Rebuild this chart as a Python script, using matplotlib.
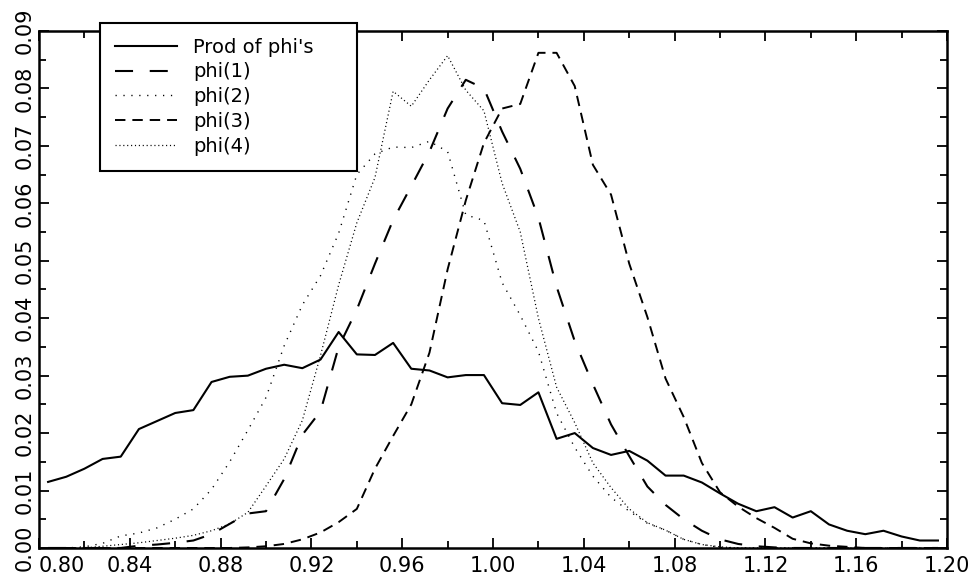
import matplotlib
matplotlib.use("Agg")
import matplotlib.pyplot as plt
import numpy as np
from matplotlib.ticker import MultipleLocator

# histogram bins: 50 bins of width 0.008 between 0.80 and 1.20
bin_edges = np.linspace(0.80, 1.20, 51)
bin_centres = (bin_edges[:-1] + bin_edges[1:]) / 2

prod_phis = [0.0115, 0.0124, 0.0138, 0.0155, 0.0159, 0.0207, 0.0221, 0.0235, 0.0240, 0.0289,
             0.0298, 0.0300, 0.0312, 0.0319, 0.0313, 0.0328, 0.0376, 0.0337, 0.0336, 0.0357,
             0.0312, 0.0309, 0.0297, 0.0301, 0.0301, 0.0252, 0.0249, 0.0271, 0.0190, 0.0200,
             0.0174, 0.0162, 0.0169, 0.0152, 0.0126, 0.0126, 0.0114, 0.0095, 0.0077, 0.0064,
             0.0071, 0.0053, 0.0064, 0.0041, 0.0030, 0.0024, 0.0030, 0.0020, 0.0013, 0.0013]

phi1 = [0.0, 0.0, 0.0, 0.0, 0.0, 0.0004, 0.0006, 0.0009, 0.0013, 0.0024,
        0.0042, 0.0060, 0.0064, 0.0120, 0.0197, 0.0238, 0.0350, 0.0415, 0.0495, 0.0571,
        0.0630, 0.0690, 0.0765, 0.0815, 0.0800, 0.0725, 0.0660, 0.0575, 0.0455, 0.0360,
        0.0285, 0.0215, 0.0160, 0.0107, 0.0075, 0.0050, 0.0030, 0.0015, 0.0007, 0.0003,
        0.0001, 0.0, 0.0, 0.0, 0.0, 0.0, 0.0, 0.0, 0.0, 0.0]

phi2 = [0.0, 0.0, 0.0002, 0.0008, 0.0021, 0.0026, 0.0035, 0.0050, 0.0068, 0.0102,
        0.0150, 0.0205, 0.0262, 0.0352, 0.0423, 0.0474, 0.0548, 0.0650, 0.0686, 0.0698,
        0.0697, 0.0708, 0.0690, 0.0580, 0.0570, 0.0462, 0.0405, 0.0342, 0.0235, 0.0175,
        0.0125, 0.0088, 0.0064, 0.0043, 0.0031, 0.0015, 0.0006, 0.0001, 0.0, 0.0,
        0.0, 0.0, 0.0, 0.0, 0.0, 0.0, 0.0, 0.0, 0.0, 0.0]

phi3 = [0.0, 0.0, 0.0, 0.0, 0.0, 0.0, 0.0, 0.0, 0.0, 0.0,
        0.0, 0.0001, 0.0003, 0.0007, 0.0015, 0.0027, 0.0045, 0.0068, 0.0138, 0.0195,
        0.0250, 0.0340, 0.0485, 0.0605, 0.0705, 0.0765, 0.0773, 0.0862, 0.0862, 0.0804,
        0.0667, 0.0615, 0.0495, 0.0402, 0.0295, 0.0228, 0.0148, 0.0097, 0.0072, 0.0052,
        0.0035, 0.0016, 0.0008, 0.0004, 0.0002, 0.0, 0.0, 0.0, 0.0, 0.0]

phi4 = [0.0, 0.0, 0.0, 0.0003, 0.0006, 0.0009, 0.0013, 0.0017, 0.0022, 0.0030,
        0.0042, 0.0062, 0.0108, 0.0155, 0.0222, 0.0335, 0.0458, 0.0566, 0.0645, 0.0795,
        0.0769, 0.0815, 0.0857, 0.0797, 0.0761, 0.0635, 0.0550, 0.0400, 0.0280, 0.0218,
        0.0148, 0.0105, 0.0068, 0.0044, 0.0031, 0.0015, 0.0006, 0.0002, 0.0, 0.0,
        0.0, 0.0, 0.0, 0.0, 0.0, 0.0, 0.0, 0.0, 0.0, 0.0]

series_labels = ["Prod of phi's", "phi(1)", "phi(2)", "phi(3)", "phi(4)"]

plt.rcParams['font.family'] = ['DejaVu Sans']
plt.rcParams['lines.scale_dashes'] = False

fig = plt.figure(figsize=(9.73, 5.75), dpi=100)
ax = fig.add_axes([0.0401, 0.0470, 0.9332, 0.8991])

ax.plot(bin_centres, prod_phis, color='black', lw=1.5, label=series_labels[0])
ax.plot(bin_centres, phi1, color='black', lw=1.5, dashes=(13, 12), label=series_labels[1])
ax.plot(bin_centres, phi2, color='black', lw=1.0, dashes=(0.9, 4.8), label=series_labels[2])
ax.plot(bin_centres, phi3, color='black', lw=1.4, dashes=(7.5, 5), label=series_labels[3])
ax.plot(bin_centres, phi4, color='black', lw=0.9, dashes=(0.8, 2.0), label=series_labels[4])

ax.set_xlim(0.80, 1.20)
ax.set_ylim(0.0, 0.09)

xticks = [0.80, 0.84, 0.88, 0.92, 0.96, 1.00, 1.04, 1.08, 1.12, 1.16, 1.20]
yticks = [0.00, 0.01, 0.02, 0.03, 0.04, 0.05, 0.06, 0.07, 0.08, 0.09]
ax.set_xticks(xticks)
ax.set_xticklabels([f"{t:.2f}" for t in xticks])
ax.set_yticks(yticks)
ax.set_yticklabels([f"{t:.2f}" for t in yticks], rotation=90, va='center')
ax.xaxis.set_minor_locator(MultipleLocator(0.02))
ax.yaxis.set_minor_locator(MultipleLocator(0.005))
ax.get_xticklabels()[0].set_ha('left')

ax.tick_params(which='both', direction='in', top=True, right=True, width=1.3,
               labelsize=15)
ax.tick_params(axis='x', pad=6)
ax.tick_params(axis='y', pad=3.5)
ax.tick_params(which='major', length=7)
ax.tick_params(which='minor', length=5)
for spine in ax.spines.values():
    spine.set_linewidth(1.8)

# legend box sits partly above the plot frame, stretched to a fixed width
leg = ax.legend(loc='upper left', bbox_to_anchor=(0.1028, 0.708, 0.2641, 0.252),
                bbox_transform=fig.transFigure, mode='expand', fontsize=14,
                frameon=True, fancybox=False, shadow=False, framealpha=1.0,
                edgecolor='black', borderpad=0.75, labelspacing=0.3,
                handlelength=3.2, handletextpad=0.82, borderaxespad=0.0)
leg.get_frame().set_linewidth(1.5)

fig.savefig('out.png', dpi=100)
